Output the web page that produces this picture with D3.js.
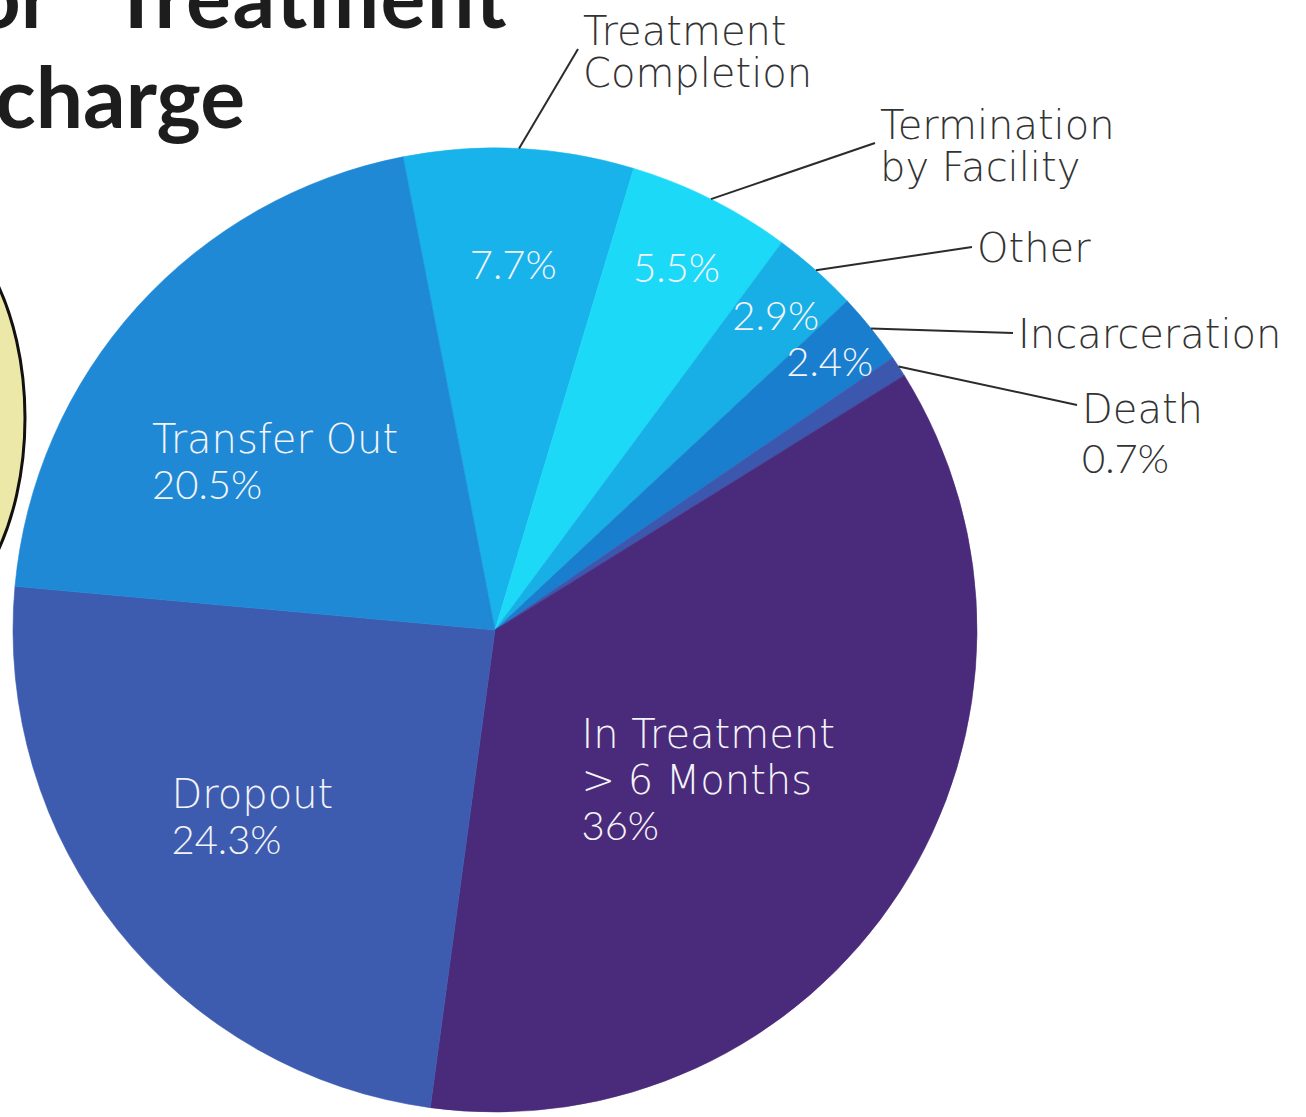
<!DOCTYPE html>
<html>
<head>
<meta charset="utf-8">
<script src="https://cdn.jsdelivr.net/npm/d3@7"></script>
<style>
  html, body { margin: 0; padding: 0; background: #ffffff; }
  svg { display: block; }
  .name { font-family: "DejaVu Sans", sans-serif; font-weight: 200; }
  .pct { font-family: Lato, "Noto Sans", sans-serif; font-weight: 300; }
  .in-label { fill: #f4f4f8; }
  .out-label { fill: #333333; }
  .title { font-family: Lato, "Noto Sans", sans-serif; font-weight: 700; fill: #1d1d1d; }
</style>
</head>
<body>
<div id="chart"></div>
<script>
var svgWidth = 1306;
var svgHeight = 1117;

// data (percent of discharges)
var categories = [
  "Treatment Completion",
  "Termination by Facility",
  "Other",
  "Incarceration",
  "Death",
  "In Treatment > 6 Months",
  "Dropout",
  "Transfer Out"
];
var values = [7.7, 5.5, 2.9, 2.4, 0.7, 36, 24.3, 20.5];
var nameLines = [
  ["Treatment", "Completion"],
  ["Termination", "by Facility"],
  ["Other"],
  ["Incarceration"],
  ["Death"],
  ["In Treatment", "> 6 Months"],
  ["Dropout"],
  ["Transfer Out"]
];
var colors = ["#17b3ea", "#1cdaf7", "#18afe6", "#1a7ecf", "#3b58ae", "#4a2a7a", "#3d5cb0", "#1f89d6"];

// label layout: "inside" = name + value inside slice,
// "split" = name outside with leader, value inside, "outside" = all outside
var labelMode = ["split", "split", "split", "split", "outside", "inside", "inside", "inside"];
var labelRadius = [0.76, 0.84, 0.875, 0.89, 0, 0.54, 0.635, 0.575];
var labelTurn = [0, 0, 0, 0, 0, 2.1, 1, -4.6];   // degrees
var leaderEnd = [[578, 49], [875, 143], [972, 247], [1013, 333], [1077, 405]];

var cx = 495, cy = 630, radius = 482;
var fontSize = 40;
var capHeight = 29;

var svg = d3.select("#chart")
  .append("svg")
  .attr("width", svgWidth)
  .attr("height", svgHeight);

// partial yellow callout shape cut by the left edge
svg.append("ellipse")
  .attr("cx", -95)
  .attr("cy", 418)
  .attr("rx", 120)
  .attr("ry", 210)
  .attr("fill", "#ece8a8")
  .attr("stroke", "#111")
  .attr("stroke-width", 3);

// title, cropped by the frame
svg.append("text")
  .attr("class", "title")
  .attr("x", 52)
  .attr("y", 28)
  .attr("text-anchor", "end")
  .attr("font-size", 84)
  .text("Reason for");

svg.append("text")
  .attr("class", "title")
  .attr("x", 111)
  .attr("y", 28)
  .attr("font-size", 84)
  .attr("letter-spacing", 1.5)
  .text("Treatment");

svg.append("text")
  .attr("class", "title")
  .attr("x", 245)
  .attr("y", 128)
  .attr("text-anchor", "end")
  .attr("font-size", 84)
  .text("Discharge");

var pie = d3.pie()
  .sort(null)
  .value(d => d)
  .startAngle(-11 * Math.PI / 180)
  .endAngle(349 * Math.PI / 180);

var arcs = pie(values);

var arc = d3.arc()
  .innerRadius(0)
  .outerRadius(radius);

var chartGroup = svg.append("g")
  .attr("transform", `translate(${cx}, ${cy})`);

chartGroup.selectAll("path")
  .data(arcs)
  .enter()
  .append("path")
  .attr("d", arc)
  .attr("fill", (d, i) => colors[i])
  .attr("stroke", (d, i) => colors[i])
  .attr("stroke-width", 0.6);

function polar(angle, r) {
  return [r * Math.sin(angle), -r * Math.cos(angle)];
}

arcs.forEach(function(d, i) {
  var mid = (d.startAngle + d.endAngle) / 2 + labelTurn[i] * Math.PI / 180;
  var mode = labelMode[i];
  var pct = values[i] + "%";

  if (mode === "inside") {
    var c = polar(mid, radius * labelRadius[i]);
    var lines = nameLines[i].concat([pct]);
    var lh = 46;
    var t = chartGroup.append("text")
      .attr("class", "in-label")
      .attr("font-size", fontSize);
    lines.forEach(function(line, k) {
      t.append("tspan")
        .attr("class", k === lines.length - 1 ? "pct" : "name")
        .attr("x", 0)
        .attr("y", k * lh)
        .text(line);
    });
    var bb = t.node().getBBox();
    var y0 = c[1] - ((lines.length - 1) * lh - capHeight) / 2;
    t.attr("transform", `translate(${c[0] - bb.width / 2}, ${y0})`);
  } else {
    if (mode === "split") {
      var v = polar(mid, radius * labelRadius[i]);
      chartGroup.append("text")
        .attr("class", "in-label pct")
        .attr("font-size", fontSize)
        .attr("x", v[0])
        .attr("y", v[1])
        .attr("dy", "0.36em")
        .attr("text-anchor", "middle")
        .text(pct);
    }
    // leader line from the rim to the label
    var s = polar(mid, radius);
    var e = leaderEnd[i];
    svg.append("line")
      .attr("x1", cx + s[0])
      .attr("y1", cy + s[1])
      .attr("x2", e[0])
      .attr("y2", e[1])
      .attr("stroke", "#2b2b2b")
      .attr("stroke-width", 2);

    var outLines = mode === "outside" ? nameLines[i].concat([pct]) : nameLines[i];
    var lh2 = mode === "outside" ? 50 : 42;
    var first = nameLines[i].length > 1 && mode === "split" ? -4 : (mode === "outside" ? 18 : 15);
    var ot = svg.append("text")
      .attr("class", "out-label")
      .attr("font-size", fontSize);
    outLines.forEach(function(line, k) {
      ot.append("tspan")
        .attr("class", k >= nameLines[i].length ? "pct" : "name")
        .attr("x", e[0] + 5)
        .attr("y", e[1] + first + k * lh2)
        .text(line);
    });
  }
});
</script>
</body>
</html>
